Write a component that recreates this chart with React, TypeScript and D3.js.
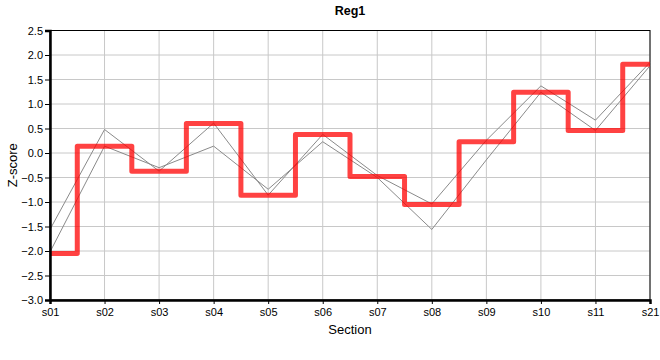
import React, { useEffect, useRef } from "react";
import * as d3 from "d3";

const sections = ["s01", "s02", "s03", "s04", "s05", "s06", "s07", "s08", "s09", "s10", "s11", "s21"];
const stepValues = [-2.05, 0.14, -0.37, 0.6, -0.86, 0.38, -0.48, -1.05, 0.23, 1.24, 0.46, 1.81];
const greyA = [-1.56, 0.48, -0.37, 0.61, -0.86, 0.38, -0.46, -1.04, 0.26, 1.37, 0.67, 1.85];
const greyB = [-2.02, 0.14, -0.3, 0.14, -0.74, 0.23, -0.5, -1.56, -0.14, 1.24, 0.46, 1.78];
const yTicks = [-3.0, -2.5, -2.0, -1.5, -1.0, -0.5, 0.0, 0.5, 1.0, 1.5, 2.0, 2.5];

const W = 660;
const H = 360;
const margin = { top: 30.5, right: 10, bottom: 60, left: 50 };

const App = () => {
    const ref = useRef(null);

    useEffect(() => {
        const svg = d3.select(ref.current);
        svg.selectAll("*").remove();

        const x = d3.scalePoint().domain(sections).range([margin.left, W - margin.right]);
        const y = d3.scaleLinear().domain([-3, 2.5]).range([H - margin.bottom, margin.top]);
        const font = "'Liberation Sans', Arial, sans-serif";

        // grid
        svg.append("g")
            .selectAll("line.h")
            .data(yTicks)
            .join("line")
            .attr("x1", margin.left).attr("x2", W - margin.right)
            .attr("y1", d => y(d)).attr("y2", d => y(d))
            .attr("stroke", "#c8c8c8").attr("stroke-width", 1);
        svg.append("g")
            .selectAll("line.v")
            .data(sections)
            .join("line")
            .attr("x1", d => x(d)).attr("x2", d => x(d))
            .attr("y1", margin.top).attr("y2", H - margin.bottom)
            .attr("stroke", "#c8c8c8").attr("stroke-width", 1);

        // frame top/right
        svg.append("rect")
            .attr("x", margin.left).attr("y", margin.top)
            .attr("width", W - margin.right - margin.left)
            .attr("height", H - margin.bottom - margin.top)
            .attr("fill", "none").attr("stroke", "#000").attr("stroke-width", 1);

        // grey lines
        const line = d3.line<number>().x((d, i) => x(sections[i])).y(d => y(d));
        [greyA, greyB].forEach(s => {
            svg.append("path")
                .attr("d", line(s))
                .attr("fill", "none")
                .attr("stroke", "#8a8a8a")
                .attr("stroke-width", 1);
        });

        // red step line
        const step = d3.line<number>().x((d, i) => x(sections[i])).y(d => y(d)).curve(d3.curveStep);
        svg.append("path")
            .attr("d", step(stepValues))
            .attr("fill", "none")
            .attr("stroke", "rgba(255,0,0,0.74)")
            .attr("stroke-width", 5)
            .attr("stroke-linejoin", "round");

        // axes
        const xAxis = svg.append("g")
            .attr("transform", `translate(0,${H - margin.bottom})`)
            .call(d3.axisBottom(x).tickSize(4).tickPadding(4));
        xAxis.select(".domain").attr("stroke-width", 2.5);
        xAxis.selectAll("text").attr("font-family", font).attr("font-size", 11).attr("fill", "#000");

        const yAxis = svg.append("g")
            .attr("transform", `translate(${margin.left},0)`)
            .call(d3.axisLeft(y).tickValues(yTicks).tickFormat(d3.format(".1f")).tickSize(5).tickPadding(2));
        yAxis.select(".domain").attr("stroke-width", 2.5);
        yAxis.selectAll("text").attr("font-family", font).attr("font-size", 11).attr("fill", "#000");

        // titles
        svg.append("text")
            .attr("x", (margin.left + W - margin.right) / 2).attr("y", 15)
            .attr("text-anchor", "middle")
            .attr("font-family", font).attr("font-size", 12.5).attr("font-weight", "bold")
            .text("Reg1");
        svg.append("text")
            .attr("x", (margin.left + W - margin.right) / 2).attr("y", 334)
            .attr("text-anchor", "middle")
            .attr("font-family", font).attr("font-size", 13)
            .text("Section");
        svg.append("text")
            .attr("transform", `translate(17,${(margin.top + H - margin.bottom) / 2}) rotate(-90)`)
            .attr("text-anchor", "middle")
            .attr("font-family", font).attr("font-size", 13)
            .text("Z-score");
    }, []);

    return (
        <div style={{ position: "absolute", left: 0, top: 0 }}>
            <svg ref={ref} width={W} height={H} style={{ display: "block", background: "#fff" }} />
        </div>
    );
};

export default App;
